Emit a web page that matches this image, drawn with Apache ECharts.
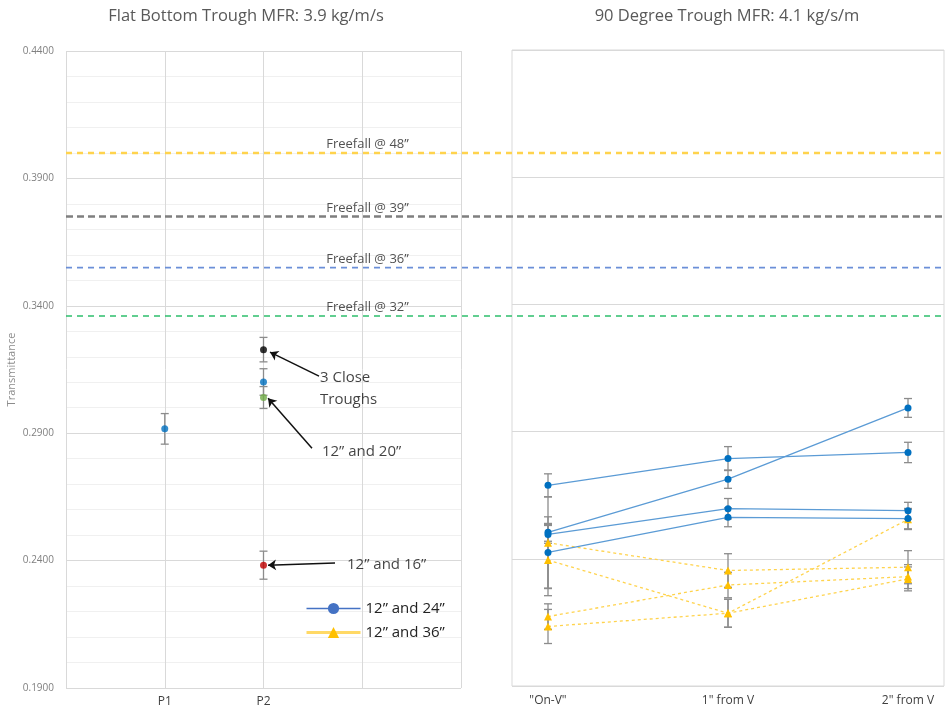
<!DOCTYPE html>
<html>
<head>
<meta charset="utf-8">
<script src="https://cdn.jsdelivr.net/npm/echarts@6/dist/echarts.min.js"></script>
<style>
    html, body {margin: 0; padding: 0; background: #fff;}
    #chart {width: 945px; height: 709px;}
</style>
</head>
<body>
<div id="chart"></div>
<script>
// left panel: points placed on a 0..4 value axis (P1 = 1, P2 = 2)
var leftTicks = ['', 'P1', 'P2', '', '']
var leftX = [1, 2, 2, 2, 2]
var leftY = [0.2917, 0.3228, 0.3101, 0.3040, 0.2382]
var leftErr = [0.0060, 0.0048, 0.0052, 0.0043, 0.0055]

// right panel: 4 runs for each trough spacing
var rightCats = ['"On-V"', '1" from V', '2" from V']
var blueVals = [
    [0.2689, 0.2794, 0.2818],
    [0.2504, 0.2713, 0.2993],
    [0.2496, 0.2597, 0.2589],
    [0.2425, 0.2563, 0.2558]
]
var blueErr = [
    [0.0045, 0.0047, 0.0040],
    [0.0035, 0.0036, 0.0037],
    [0.0035, 0.0040, 0.0033],
    [0.0140, 0.0037, 0.0040]
]
var yellowVals = [
    [0.2463, 0.2354, 0.2367],
    [0.2395, 0.2186, 0.2555],
    [0.2173, 0.2297, 0.2330],
    [0.2134, 0.2186, 0.2321]
]
var yellowErr = [
    [0.0180, 0.0066, 0.0065],
    [0.0140, 0.0055, 0.0040],
    [0.0050, 0.0050, 0.0047],
    [0.0067, 0.0055, 0.0047]
]

// reference freefall levels
var freefallNames = ['Freefall @ 48”', 'Freefall @ 39”', 'Freefall @ 36”', 'Freefall @ 32”']
var freefallVals = [0.400, 0.375, 0.355, 0.336]

var blueName = '12” and 24”'
var yellowName = '12” and 36”'

// styles
var font = 'Open Sans'
var leftColors = ['#0070C0', '#000000', '#0070C0', '#70AD47', '#C00000']
var freefallColors = ['#FFD34D', '#7F7F7F', '#6B8FD8', '#2EBF6C']
var freefallWidths = [2.5, 2.5, 1.6, 1.6]
var freefallDash = [[6, 5], [7, 4], [6, 5], [6, 5]]

var errBar = (params, api) => {
    var x = api.value(0)
    var hi = api.coord([x, api.value(2)])
    var lo = api.coord([x, api.value(1)])
    var style = {stroke: '#8C8C8C', lineWidth: 1.3}
    return {
        type: 'group',
        children: [
            {type: 'line', shape: {x1: hi[0], y1: hi[1], x2: lo[0], y2: lo[1]}, style: style},
            {type: 'line', shape: {x1: hi[0] - 4, y1: hi[1], x2: hi[0] + 4, y2: hi[1]}, style: style},
            {type: 'line', shape: {x1: lo[0] - 4, y1: lo[1], x2: lo[0] + 4, y2: lo[1]}, style: style}
        ]
    }
}

var series = []

// error bars first so points sit on top
series.push({
    type: 'custom', xAxisIndex: 0, yAxisIndex: 0, z: 2,
    renderItem: errBar, encode: {x: 0, y: [1, 2]},
    data: leftY.map((v, i) => [leftX[i], v - leftErr[i], v + leftErr[i]])
})
var rightErrData = []
blueVals.forEach((row, s) => row.forEach((v, i) => rightErrData.push([i, v - blueErr[s][i], v + blueErr[s][i]])))
yellowVals.forEach((row, s) => row.forEach((v, i) => rightErrData.push([i, v - yellowErr[s][i], v + yellowErr[s][i]])))
series.push({
    type: 'custom', xAxisIndex: 1, yAxisIndex: 1, z: 2,
    renderItem: errBar, encode: {x: 0, y: [1, 2]},
    data: rightErrData
})

series.push({
    name: 'P points', type: 'scatter', xAxisIndex: 0, yAxisIndex: 0, z: 5,
    symbolSize: 7,
    data: leftY.map((v, i) => ({value: [leftX[i], v], itemStyle: {color: leftColors[i]}}))
})

blueVals.forEach((row) => {
    series.push({
        name: blueName, type: 'line', xAxisIndex: 1, yAxisIndex: 1, z: 5,
        symbol: 'circle', symbolSize: 7,
        itemStyle: {color: '#0070C0'},
        lineStyle: {color: '#5B9BD5', width: 1.3},
        data: row.map((v, i) => [i, v])
    })
})
yellowVals.forEach((row) => {
    series.push({
        name: yellowName, type: 'line', xAxisIndex: 1, yAxisIndex: 1, z: 4,
        symbol: 'triangle', symbolSize: 8,
        itemStyle: {color: '#FFC000'},
        lineStyle: {color: '#FFD34D', width: 1.3, type: [3, 3]},
        data: row.map((v, i) => [i, v])
    })
})

// freefall lines run across both panels on an overlay grid
freefallVals.forEach((v, i) => {
    series.push({
        name: freefallNames[i], type: 'line', xAxisIndex: 2, yAxisIndex: 2, z: 3,
        symbol: 'none',
        lineStyle: {color: freefallColors[i], width: freefallWidths[i], type: freefallDash[i]},
        data: [[0, v], [1, v]]
    })
})
series.push({
    name: 'freefall labels', type: 'scatter', xAxisIndex: 2, yAxisIndex: 2, z: 6,
    symbolSize: 0,
    label: {show: true, position: 'top', distance: 2, formatter: '{b}', color: '#262626', fontSize: 13, fontFamily: font},
    data: freefallVals.map((v, i) => ({name: freefallNames[i], value: [0.343, v]}))
})

// arrows and notes on the left panel
series.push({
    name: 'notes', type: 'scatter', xAxisIndex: 0, yAxisIndex: 0, z: 6,
    symbolSize: 0,
    label: {show: true, position: 'right', distance: 0, formatter: '{b}', color: '#111', fontSize: 15, lineHeight: 22, fontFamily: font},
    data: [
        {name: '3 Close\nTroughs', value: [2.572, 0.3073]},
        {name: '12” and 20”', value: [2.592, 0.2826]},
        {name: '12” and 16”', value: [2.846, 0.2382]}
    ],
    markLine: {
        silent: true,
        symbol: ['none', 'arrow'],
        symbolSize: 8,
        label: {show: false},
        lineStyle: {color: '#111', width: 1.5, type: 'solid'},
        data: [
            [{coord: [2.562, 0.3124]}, {coord: [2.066, 0.3218]}],
            [{coord: [2.491, 0.2841]}, {coord: [2.046, 0.3037]}],
            [{coord: [2.724, 0.2391]}, {coord: [2.046, 0.2382]}]
        ]
    }
})

var chart = echarts.init(document.getElementById('chart'))
chart.setOption({
    animation: false,
    textStyle: {fontFamily: font},
    title: [
        {text: 'Flat Bottom Trough MFR: 3.9 kg/m/s', left: 241, top: 3, textAlign: 'center',
            textStyle: {fontSize: 16.5, fontWeight: 'normal', color: '#595959', fontFamily: font}},
        {text: '90 Degree Trough MFR: 4.1 kg/s/m', left: 722, top: 3, textAlign: 'center',
            textStyle: {fontSize: 16.5, fontWeight: 'normal', color: '#595959', fontFamily: font}}
    ],
    legend: {
        left: 305, top: 601, orient: 'vertical', padding: 0,
        itemWidth: 54, itemHeight: 14, itemGap: 9,
        textStyle: {fontSize: 15, color: '#222', fontFamily: font},
        data: [
            {name: blueName, itemStyle: {color: '#4472C4'}, lineStyle: {color: '#4472C4', width: 1.6, type: 'solid'}},
            {name: yellowName, itemStyle: {color: '#FFC000'}, lineStyle: {color: '#FFD966', width: 3, type: 'solid'}}
        ]
    },
    grid: [
        {left: 66, top: 51, width: 395, height: 637},
        {left: 512, top: 50, width: 432, height: 636, show: true, borderColor: '#D9D9D9', borderWidth: 1},
        {left: 66, top: 51, right: 0, height: 637}
    ],
    xAxis: [
        {
            gridIndex: 0, type: 'value', min: 0, max: 4, interval: 1,
            axisLine: {show: false}, axisTick: {show: false},
            axisLabel: {formatter: (v) => leftTicks[v] || '', fontSize: 12, color: '#404040', margin: 8},
            splitLine: {show: true, lineStyle: {color: '#D9D9D9'}}
        },
        {
            gridIndex: 1, type: 'value', min: -0.2, max: 2.2,
            axisLine: {show: false}, axisTick: {show: false},
            axisLabel: {customValues: [0, 1, 2], formatter: (v) => rightCats[Math.round(v)], fontSize: 12, color: '#404040', margin: 9},
            splitLine: {show: false}
        },
        {gridIndex: 2, type: 'value', min: 0, max: 1, show: false}
    ],
    yAxis: [
        {
            gridIndex: 0, type: 'value', min: 0.19, max: 0.44, interval: 0.05,
            name: 'Transmittance', nameLocation: 'middle', nameGap: 49,
            nameTextStyle: {fontSize: 11, color: '#8C8C8C'},
            axisLine: {show: false}, axisTick: {show: false},
            axisLabel: {formatter: (v) => v.toFixed(4), fontSize: 10, color: '#808080', margin: 12},
            splitLine: {show: true, lineStyle: {color: '#D9D9D9'}},
            minorTick: {show: false, splitNumber: 5},
            minorSplitLine: {show: true, lineStyle: {color: '#F0F0F0'}}
        },
        {
            gridIndex: 1, type: 'value', min: 0.19, max: 0.44, interval: 0.05,
            axisLine: {show: false}, axisTick: {show: false}, axisLabel: {show: false},
            splitLine: {show: true, lineStyle: {color: '#D9D9D9'}}
        },
        {gridIndex: 2, type: 'value', min: 0.19, max: 0.44, show: false}
    ],
    series: series
})
</script>
</body>
</html>
